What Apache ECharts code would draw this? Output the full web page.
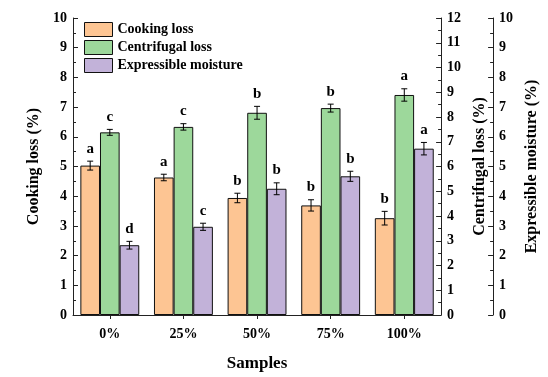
<!DOCTYPE html>
<html>
<head>
<meta charset="utf-8">
<script src="https://cdn.jsdelivr.net/npm/echarts@6/dist/echarts.min.js"></script>
<style>
  html, body { margin: 0; padding: 0; background: #fff; }
  #chart { width: 548px; height: 377px; }
</style>
</head>
<body>
<div id="chart"></div>
<script>
const categories = ['0%', '25%', '50%', '75%', '100%']

const cookingLoss = [5.03, 4.63, 3.94, 3.69, 3.26]
const cookingErr = [0.15, 0.11, 0.16, 0.19, 0.23]
const cookingLetters = ['a', 'a', 'b', 'b', 'b']

const centrifugalLoss = [7.38, 7.6, 8.17, 8.36, 8.89]
const centrifugalErr = [0.12, 0.13, 0.26, 0.16, 0.25]
const centrifugalLetters = ['c', 'c', 'b', 'b', 'a']

const expressible = [2.35, 2.97, 4.25, 4.67, 5.6]
const expressibleErr = [0.13, 0.12, 0.2, 0.17, 0.21]
const expressibleLetters = ['d', 'c', 'b', 'b', 'a']

const FONT = 'Liberation Serif'
const colors = ['#fdc593', '#9dd89b', '#c2b2d9']

const axisStyle = (extra) => Object.assign({
    type: 'value',
    interval: 1,
    min: 0,
    axisLine: { show: true, lineStyle: { color: '#222', width: 1 } },
    axisTick: { show: true, inside: true, length: 5, lineStyle: { color: '#222' } },
    minorTick: { show: true, splitNumber: 2, length: 3, lineStyle: { color: '#222' } },
    splitLine: { show: false },
    axisLabel: { color: '#000', fontFamily: FONT, fontWeight: 'bold', fontSize: 14, margin: 6 },
    nameLocation: 'middle',
    nameTextStyle: { color: '#000', fontFamily: FONT, fontWeight: 'bold', fontSize: 16 },
}, extra)

// error bar + significance letter, offset within the category group
function errorSeries(values, errs, letters, idx, yAxisIndex) {
    return {
        type: 'custom',
        yAxisIndex: yAxisIndex,
        z: 10,
        data: values.map((v, i) => [i, v, errs[i]]),
        renderItem: function (params, api) {
            const i = api.value(0)
            const v = api.value(1)
            const e = api.value(2)
            const band = api.size([1, 0])[0]
            const barW = band * 0.8 / 3
            const cx = api.coord([i, v])[0] + (idx - 1) * barW
            const yHi = api.coord([i, v + e])[1]
            const yLo = api.coord([i, v - e])[1]
            const cap = 3
            const st = { stroke: '#000', lineWidth: 1 }
            return {
                type: 'group',
                children: [
                    { type: 'line', shape: { x1: cx, y1: yHi, x2: cx, y2: yLo }, style: st },
                    { type: 'line', shape: { x1: cx - cap, y1: yHi, x2: cx + cap, y2: yHi }, style: st },
                    { type: 'line', shape: { x1: cx - cap, y1: yLo, x2: cx + cap, y2: yLo }, style: st },
                    {
                        type: 'text',
                        style: {
                            x: cx, y: yHi - 5, text: letters[i],
                            textAlign: 'center', textVerticalAlign: 'bottom',
                            fill: '#000', font: 'bold 15px "' + FONT + '"',
                        },
                    },
                ],
            }
        },
    }
}

const barSeries = (name, data, color, yAxisIndex) => ({
    name: name,
    type: 'bar',
    yAxisIndex: yAxisIndex,
    data: data,
    barGap: '0%',
    barCategoryGap: '20%',
    itemStyle: { color: color, borderColor: '#111', borderWidth: 1 },
})

const chart = echarts.init(document.getElementById('chart'), null, { renderer: 'canvas' })
chart.setOption({
    animation: false,
    grid: { left: 73, right: 103, top: 18, bottom: 58 },
    legend: {
        orient: 'vertical',
        left: 79,
        top: 17,
        itemWidth: 28,
        itemHeight: 14,
        itemGap: 3,
        icon: 'rect',
        itemStyle: { borderColor: '#111', borderWidth: 1 },
        textStyle: { color: '#000', fontFamily: FONT, fontWeight: 'bold', fontSize: 14 },
        data: ['Cooking loss', 'Centrifugal loss', 'Expressible moisture'],
    },
    xAxis: {
        type: 'category',
        data: categories,
        name: 'Samples',
        nameLocation: 'middle',
        nameGap: 40,
        nameTextStyle: { color: '#000', fontFamily: FONT, fontWeight: 'bold', fontSize: 17 },
        axisLine: { show: true, lineStyle: { color: '#222' } },
        axisTick: { show: true, alignWithLabel: true, length: 4, lineStyle: { color: '#222' } },
        axisLabel: { color: '#000', fontFamily: FONT, fontWeight: 'bold', fontSize: 14, margin: 12 },
    },
    yAxis: [
        axisStyle({ max: 10, name: 'Cooking loss (%)', nameGap: 27, position: 'left' }),
        axisStyle({ max: 12, name: 'Centrifugal loss (%)', nameGap: 26, position: 'right' }),
        axisStyle({ max: 10, name: 'Expressible moisture (%)', nameGap: 24, position: 'right', offset: 52 }),
    ],
    series: [
        barSeries('Cooking loss', cookingLoss, colors[0], 0),
        barSeries('Centrifugal loss', centrifugalLoss, colors[1], 1),
        barSeries('Expressible moisture', expressible, colors[2], 2),
        errorSeries(cookingLoss, cookingErr, cookingLetters, 0, 0),
        errorSeries(centrifugalLoss, centrifugalErr, centrifugalLetters, 1, 1),
        errorSeries(expressible, expressibleErr, expressibleLetters, 2, 2),
    ],
})
</script>
</body>
</html>
